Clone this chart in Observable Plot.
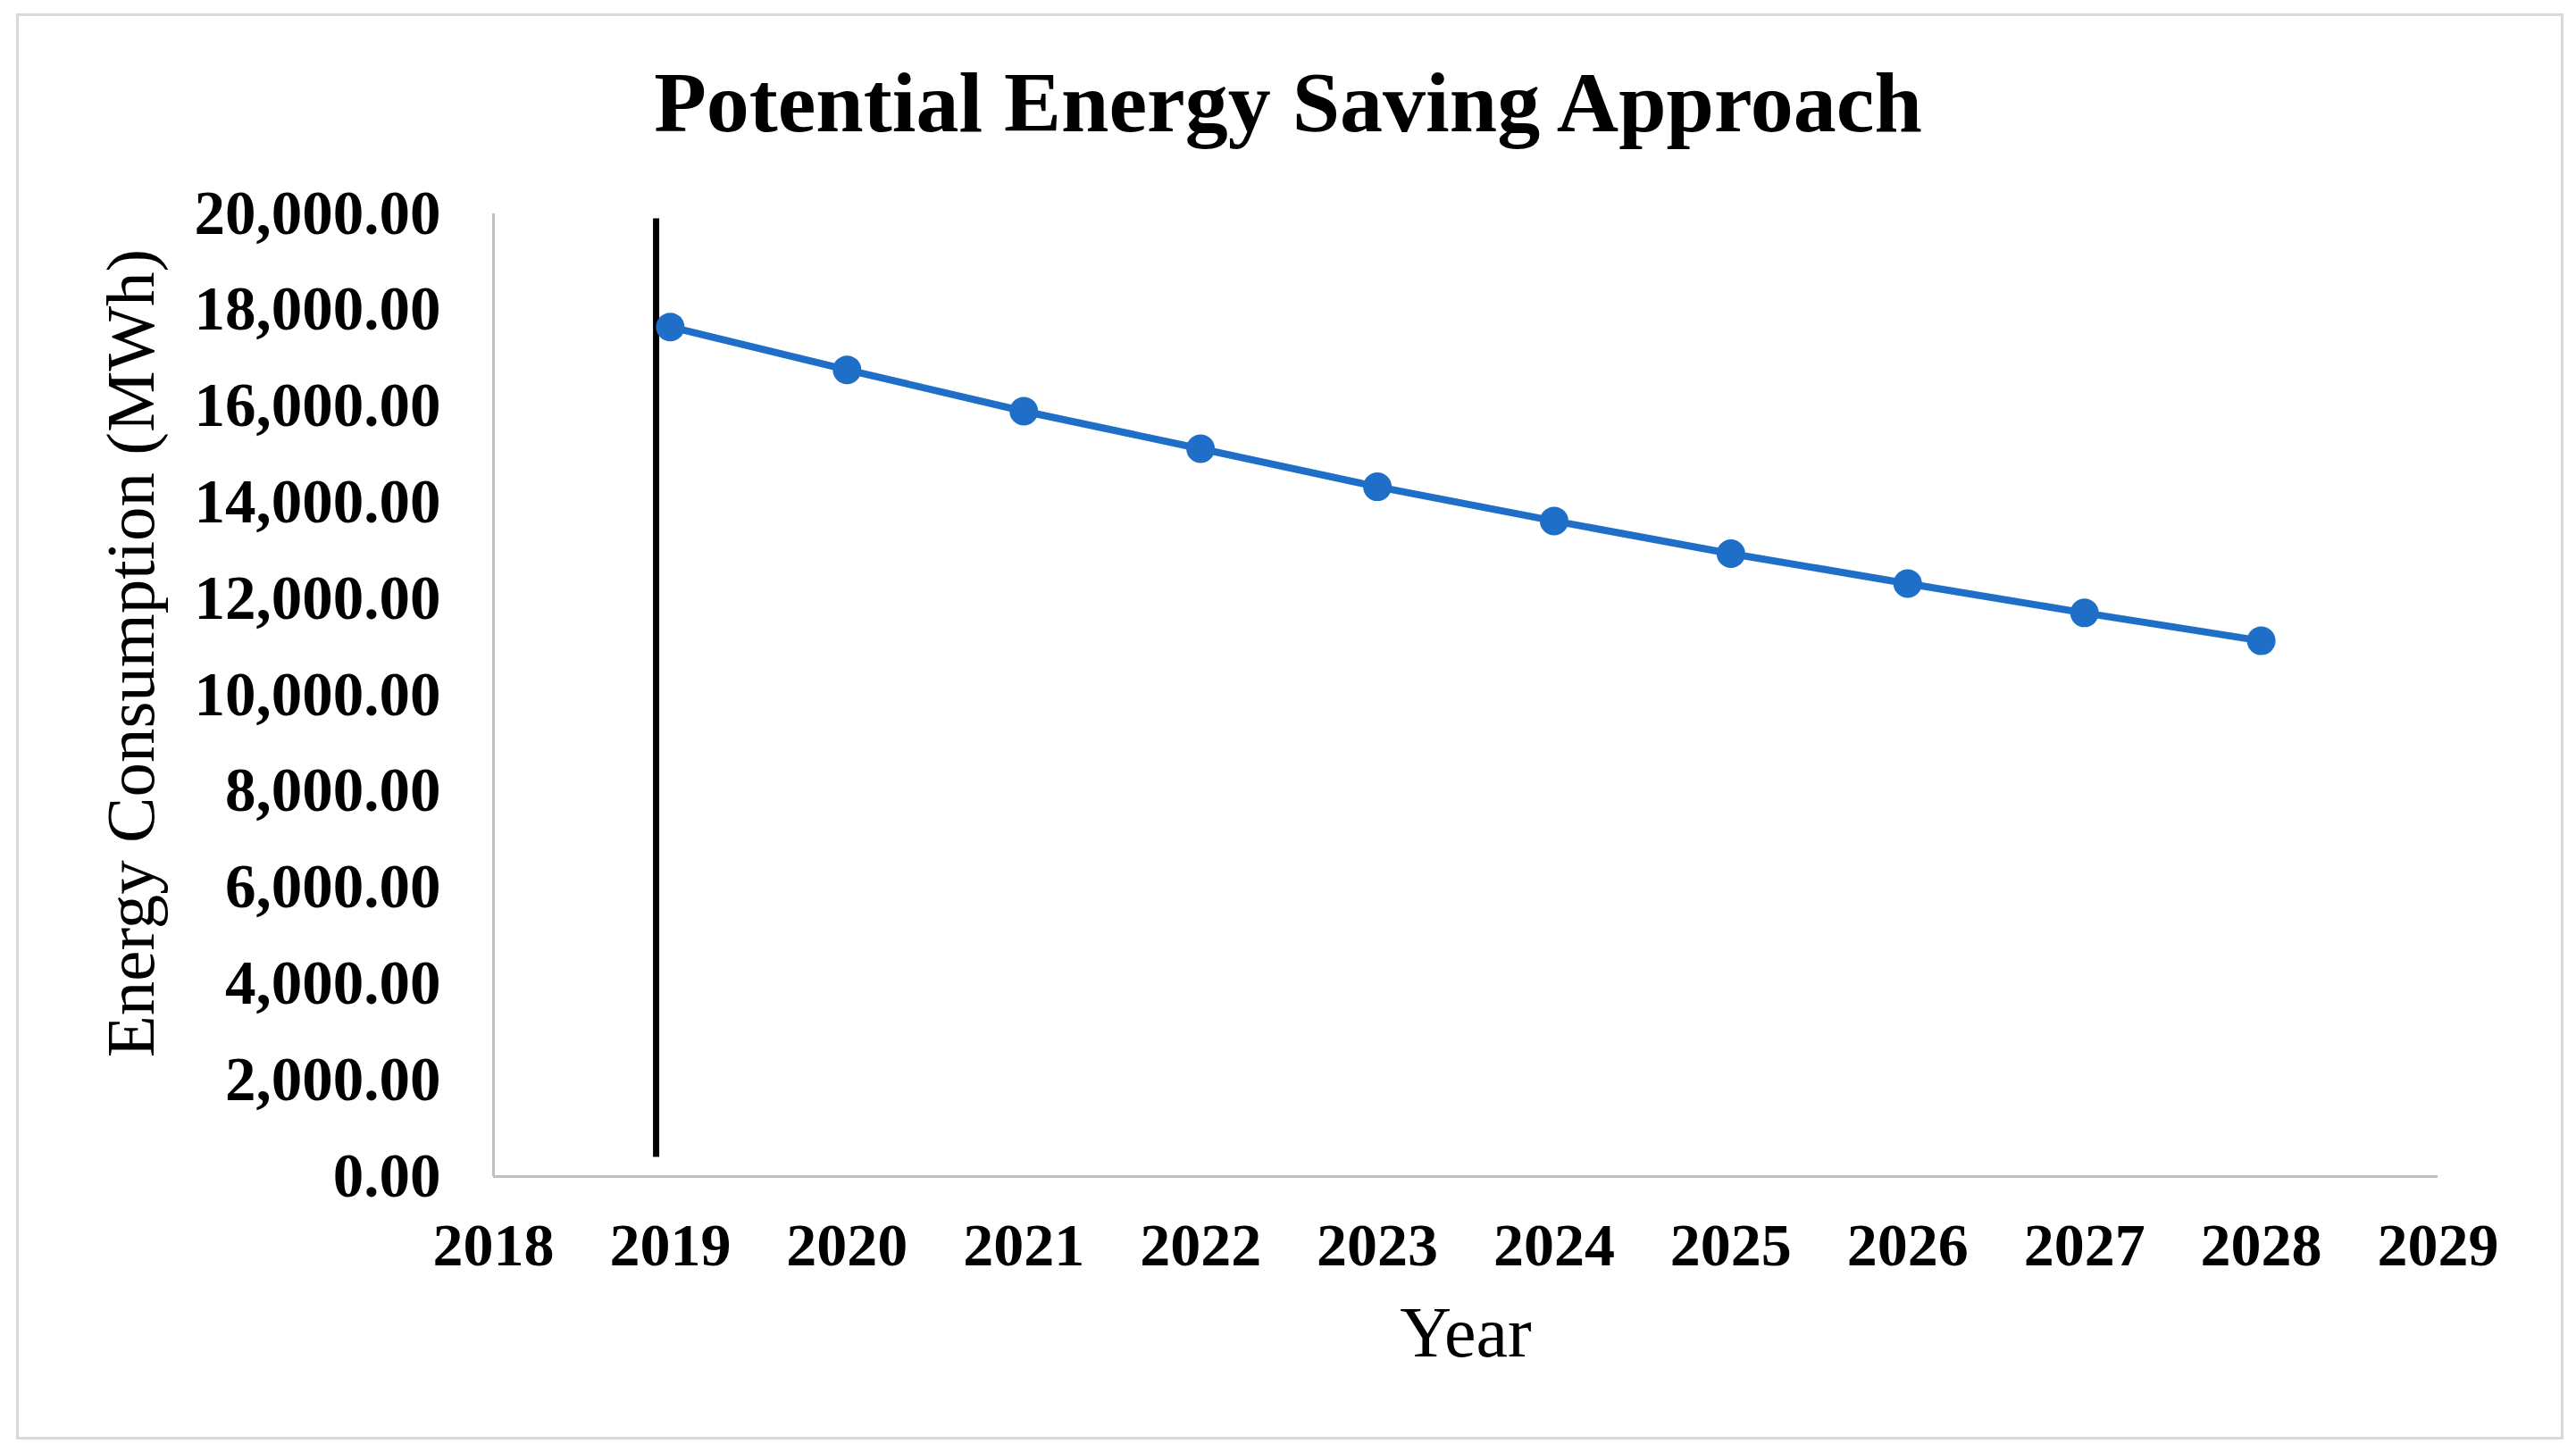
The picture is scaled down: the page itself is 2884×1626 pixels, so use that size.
<!DOCTYPE html>
<html>
<head>
<meta charset="utf-8">
<script src="https://cdn.jsdelivr.net/npm/d3@7"></script>
<script src="https://cdn.jsdelivr.net/npm/@observablehq/plot@0.6"></script>
<style>
  html, body { margin: 0; padding: 0; background: #ffffff; }
  body { width: 2884px; height: 1626px; position: relative; overflow: hidden; font-family: "Liberation Serif", "Times New Roman", serif; }
  #frame { position: absolute; left: 18px; top: 15px; width: 2852px; height: 1597px; border: 3px solid #d9d9d9; box-sizing: border-box; z-index: 5; pointer-events: none; }
  #title { position: absolute; left: 0; top: 0; width: 2884px; height: 200px; box-sizing: border-box; padding-top: 66px; text-align: center; font-size: 96px; line-height: 97px; font-weight: bold; color: #000; }
  #chart { position: absolute; left: 0; top: 200px; }
</style>
</head>
<body>
<div id="title">Potential Energy Saving Approach</div>
<div id="chart"></div>
<div id="frame"></div>
<script>
const years = [2019, 2020, 2021, 2022, 2023, 2024, 2025, 2026, 2027, 2028];
const consumption = [17650, 16760, 15900, 15120, 14330, 13620, 12940, 12320, 11710, 11130];
const yearTicks = [2018, 2019, 2020, 2021, 2022, 2023, 2024, 2025, 2026, 2027, 2028, 2029];
const valueTicks = [0, 2000, 4000, 6000, 8000, 10000, 12000, 14000, 16000, 18000, 20000];
const markerYear = [2018.92];
const markerRange = [400, 19900];
const xLabel = "Year";
const yLabel = "Energy Consumption (MWh)";

const data = years.map((y, i) => ({year: y, value: consumption[i]}));
const fmt = d3.format(",.2f");

const plot = Plot.plot({
  width: 2884,
  height: 1426,
  marginLeft: 552,
  marginRight: 155,
  marginTop: 39,
  marginBottom: 309,
  style: {fontFamily: "'Liberation Serif', 'Times New Roman', serif", background: "transparent", color: "#000", overflow: "visible"},
  x: {domain: [yearTicks[0], yearTicks[yearTicks.length - 1]], axis: null},
  y: {domain: [valueTicks[0], valueTicks[valueTicks.length - 1]], axis: null},
  marks: [
    Plot.ruleX([yearTicks[0]], {stroke: "#bfbfbf", strokeWidth: 3}),
    Plot.ruleY([valueTicks[0]], {stroke: "#bfbfbf", strokeWidth: 3}),
    Plot.axisY(valueTicks, {tickSize: 0, tickPadding: 59, tickFormat: fmt, fontSize: 69, fontWeight: "bold", label: null, fill: "#000"}),
    Plot.axisX(yearTicks, {tickSize: 0, tickPadding: 51, tickFormat: d => String(d), fontSize: 68, fontWeight: "bold", label: null, fill: "#000"}),
    Plot.ruleX(markerYear, {y1: markerRange[0], y2: markerRange[1], stroke: "#000", strokeWidth: 7}),
    Plot.line(data, {x: "year", y: "value", stroke: "#1f6fc8", strokeWidth: 8}),
    Plot.dot(data, {x: "year", y: "value", r: 16, fill: "#1f6fc8", stroke: "none"}),
    Plot.text([yLabel], {frameAnchor: "left", rotate: -90, dx: -405, dy: -47, fontSize: 77, lineAnchor: "middle", textAnchor: "middle", fill: "#000"}),
    Plot.text([xLabel], {frameAnchor: "bottom", dy: 176, fontSize: 80, lineAnchor: "middle", textAnchor: "middle", fill: "#000"})
  ]
});
document.getElementById("chart").appendChild(plot);
</script>
</body>
</html>
